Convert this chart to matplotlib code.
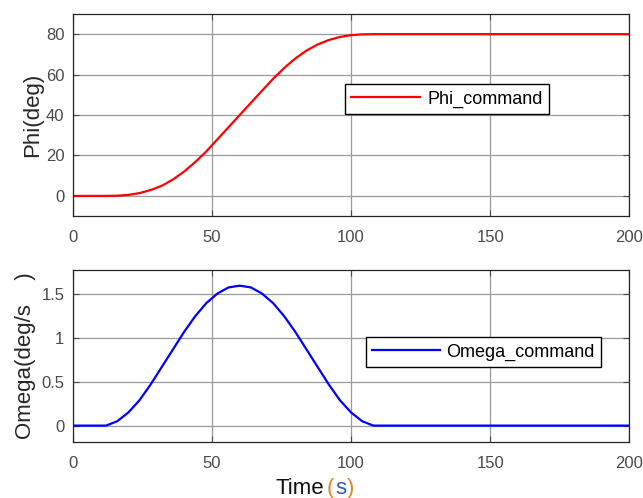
import matplotlib

matplotlib.use("Agg")

import matplotlib.pyplot as plt

# values
time_s = [0, 12, 16, 20, 24, 28, 32, 36, 40, 44, 48, 52, 56, 60,
          64, 68, 72, 76, 80, 84, 88, 92, 96, 100, 104, 108, 200]
phi_cmd = [0.0, 0.0, 0.1, 0.5, 1.4, 2.9, 5.0, 8.1, 12.0, 16.7, 22.0, 28.0, 34.0, 40.0,
           46.0, 52.0, 57.9, 63.3, 68.0, 71.9, 74.9, 77.1, 78.6, 79.5, 79.9, 80.0, 80.0]
omega_cmd = [0.0, 0.0, 0.05, 0.15, 0.29, 0.47, 0.67, 0.87, 1.07, 1.25, 1.40, 1.51, 1.58, 1.60,
             1.58, 1.51, 1.40, 1.25, 1.07, 0.87, 0.67, 0.47, 0.29, 0.15, 0.05, 0.0, 0.0]

plt.rcParams["font.family"] = ["Liberation Sans", "DejaVu Sans"]

TICK_COLOR = "#4a4a4a"
GRID_COLOR = "#9a9a9a"

fig = plt.figure(figsize=(6.43, 4.98), dpi=100)
ax_top = fig.add_axes([0.113, 0.566, 0.866, 0.406])
ax_bot = fig.add_axes([0.113, 0.112, 0.866, 0.346])


def _style(ax):
    ax.set_xlim(0, 200)
    ax.set_xticks([0, 50, 100, 150, 200])
    ax.grid(True, color=GRID_COLOR, linewidth=0.9)
    ax.set_axisbelow(True)
    ax.tick_params(direction="in", top=True, right=True, length=4,
                   labelsize=12, colors=TICK_COLOR, width=0.8)
    ax.tick_params(axis="x", pad=10)
    ax.tick_params(axis="y", pad=6)
    for spine in ax.spines.values():
        spine.set_color("#262626")
        spine.set_linewidth(0.9)


ax_top.plot(time_s, phi_cmd, color="#ff0000", linewidth=1.6, label="Phi_command")
_style(ax_top)
ax_top.set_ylim(-10, 90)
ax_top.set_yticks([0, 20, 40, 60, 80])
ax_top.set_ylabel("Phi(deg)", fontsize=16, color="#262626")
ax_top.yaxis.set_label_coords(-0.053, 0.5)
ax_top.legend(loc="upper left", bbox_to_anchor=(0.489, 0.653), fontsize=13,
              fancybox=False, edgecolor="black", framealpha=1, handlelength=3.8,
              handletextpad=0.4, borderpad=0.35, borderaxespad=0).get_frame().set_linewidth(1.0)

ax_bot.plot(time_s, omega_cmd, color="#0000ff", linewidth=1.6, label="Omega_command")
_style(ax_bot)
ax_bot.set_ylim(-0.19, 1.78)
ax_bot.set_yticks([0, 0.5, 1, 1.5])
ax_bot.set_yticklabels(["0", "0.5", "1", "1.5"])
ax_bot.set_ylabel("Omega(deg/s    )", fontsize=16, color="#262626")
ax_bot.yaxis.set_label_coords(-0.065, 0.5)
ax_bot.legend(loc="upper left", bbox_to_anchor=(0.526, 0.609), fontsize=13,
              fancybox=False, edgecolor="black", framealpha=1, handlelength=3.8,
              handletextpad=0.3, borderpad=0.35, borderaxespad=0).get_frame().set_linewidth(1.0)

# x label with coloured unit: pieces placed one after the other
y_base = 0.008
pieces = [("Time", "#111111", 3), ("(", "#d98a2b", 0), ("s", "#2f5fae", 0), (")", "#d98a2b", 0)]
renderer = fig.canvas.get_renderer()
x_px = 275
for text, color, gap in pieces:
    t = fig.text(x_px / 643, y_base, text, fontsize=16, color=color, va="baseline", ha="left")
    x_px = t.get_window_extent(renderer).x1 + gap + 0.5

fig.savefig("out.png", dpi=100)
plt.close(fig)
